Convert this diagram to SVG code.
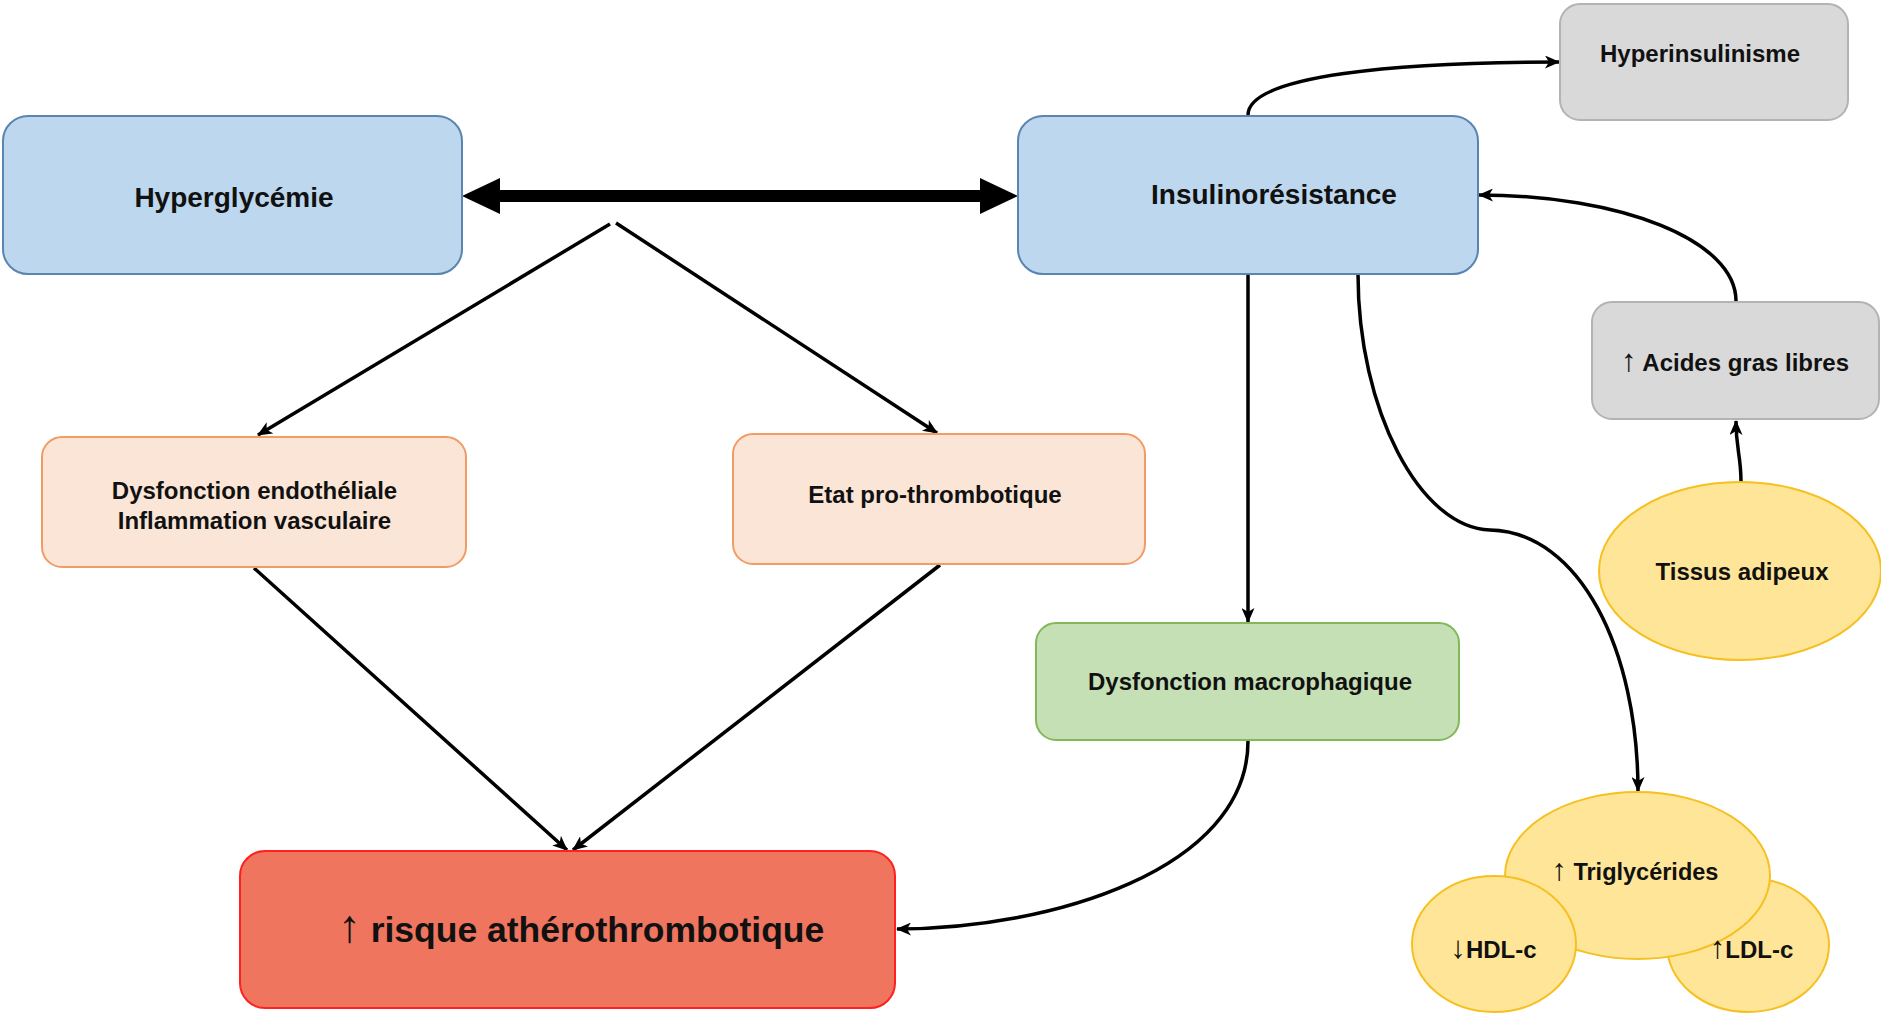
<svg xmlns="http://www.w3.org/2000/svg" width="1881" height="1013" viewBox="0 0 1881 1013">
<style>
text{font-family:"Liberation Sans",Arial,sans-serif;font-weight:bold;fill:#111;text-anchor:middle}
.ar{font-weight:normal;font-size:1.3em}
.blue{fill:#bdd7ee;stroke:#5b84b1;stroke-width:2}
.gray{fill:#d9d9d9;stroke:#b3b3b3;stroke-width:2}
.peach{fill:#fbe5d6;stroke:#f19c65;stroke-width:2}
.green{fill:#c5e0b4;stroke:#82b85a;stroke-width:2}
.red{fill:#ef755e;stroke:#ff2020;stroke-width:2}
.yel{fill:#ffe597;stroke:#f5c020;stroke-width:2}
.c{fill:none;stroke:#000;stroke-width:3.5;marker-end:url(#arr)}
.cc{fill:none;stroke:#000;stroke-width:3.5;marker-end:url(#arr)}
</style>
<defs>
<marker id="arr" markerUnits="userSpaceOnUse" markerWidth="15" markerHeight="13" refX="14" refY="6.5" orient="auto" viewBox="0 0 15 13">
<path d="M0,0 L15,6.5 L0,13 L4,6.5 z" fill="#000"/>
</marker>
<marker id="big" markerUnits="userSpaceOnUse" markerWidth="38" markerHeight="36" refX="10" refY="18" orient="auto-start-reverse" viewBox="0 0 38 36">
<path d="M0,0 L38,18 L0,36 z" fill="#000"/>
</marker>
</defs>
<rect width="1881" height="1013" fill="#fff"/>

<g id="connectors">
<line x1="490" y1="196" x2="990" y2="196" stroke="#000" stroke-width="12" marker-start="url(#big)" marker-end="url(#big)"/>
<path class="c" d="M610,224 L258,435"/>
<path class="c" d="M616,223 L937,433"/>
<path class="c" d="M254,568 L567,850"/>
<path class="c" d="M940,565 L573,850"/>
<path class="c" d="M1248,274 L1248,622"/>
<path class="cc" d="M1248,741 C1248,870 1050,929 897,929"/>
<path class="cc" d="M1248,115 C1248,75 1400,62 1559,62"/>
<path class="cc" d="M1736,301 C1736,240 1620,195 1479,195"/>
<path class="cc" d="M1741,482 C1741,455 1736,450 1736,421"/>
<path class="cc" d="M1358,274 C1358,410 1420,528 1490,530 C1580,532 1638,650 1638,791"/>
</g>

<g id="hyperglycemie">
<rect class="blue" x="3" y="116" width="459" height="158" rx="25"/>
<text x="234" y="207" font-size="28">Hyperglycémie</text>
</g>

<g id="insulinoresistance">
<rect class="blue" x="1018" y="116" width="460" height="158" rx="25"/>
<text x="1274" y="204" font-size="28">Insulinorésistance</text>
</g>

<g id="hyperinsulinisme">
<rect class="gray" x="1560" y="4" width="288" height="116" rx="20"/>
<text x="1700" y="62" font-size="24">Hyperinsulinisme</text>
</g>

<g id="acides-gras">
<rect class="gray" x="1592" y="302" width="287" height="117" rx="20"/>
<text x="1735" y="371" font-size="24"><tspan class="ar">↑</tspan> Acides gras libres</text>
</g>

<g id="tissus-adipeux">
<ellipse class="yel" cx="1740" cy="571" rx="141" ry="89"/>
<text x="1742" y="580" font-size="24">Tissus adipeux</text>
</g>

<g id="dysfonction-endotheliale">
<rect class="peach" x="42" y="437" width="424" height="130" rx="20"/>
<text x="254.5" y="499" font-size="24">Dysfonction endothéliale</text>
<text x="254.5" y="529" font-size="24">Inflammation vasculaire</text>
</g>

<g id="etat-pro-thrombotique">
<rect class="peach" x="733" y="434" width="412" height="130" rx="20"/>
<text x="935" y="503" font-size="24">Etat pro-thrombotique</text>
</g>

<g id="dysfonction-macrophagique">
<rect class="green" x="1036" y="623" width="423" height="117" rx="20"/>
<text x="1250" y="690" font-size="24">Dysfonction macrophagique</text>
</g>

<g id="risque">
<rect class="red" x="240" y="851" width="655" height="157" rx="25"/>
<text x="581" y="942" font-size="35.5"><tspan class="ar">↑</tspan> risque athérothrombotique</text>
</g>

<g id="ldl">
<ellipse class="yel" cx="1748" cy="945" rx="81" ry="67"/>
</g>

<g id="triglycerides">
<ellipse class="yel" cx="1637.5" cy="875.5" rx="132.5" ry="83.5"/>
<text x="1635" y="880" font-size="23.5"><tspan class="ar">↑</tspan> Triglycérides</text>
</g>

<g id="hdl">
<ellipse class="yel" cx="1494" cy="944" rx="82" ry="68"/>
<text x="1493.5" y="958" font-size="24"><tspan class="ar">↓</tspan>HDL-c</text>
</g>

<g id="ldl-label">
<text x="1751.5" y="958" font-size="24"><tspan class="ar">↑</tspan>LDL-c</text>
</g>
</svg>
